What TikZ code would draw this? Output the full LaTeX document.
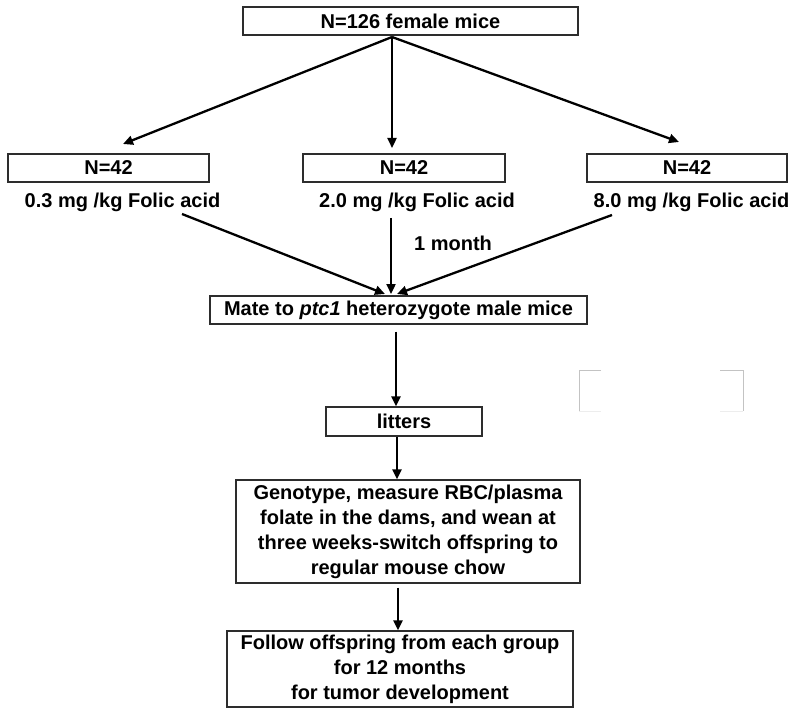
\documentclass[tikz,border=0pt]{standalone}
\usepackage{fontspec}
\setmainfont{Liberation Sans}
\usetikzlibrary{arrows.meta}
\usetikzlibrary{positioning}
\definecolor{boxgray}{RGB}{45,45,45}
\definecolor{ghostgray}{RGB}{195,195,195}

\begin{document}
\begin{tikzpicture}[x=1pt, y=-1pt,
    every node/.style={font=\fontsize{20}{25}\selectfont\bfseries, align=center, inner sep=0pt},
    stepbox/.style={draw=boxgray, line width=1.3pt, minimum height=28pt},
    arr/.style={line width=2.3pt, -{Triangle[length=10pt,width=9pt]}}]

        \useasboundingbox (0,0) rectangle (794,711);

        % Start
        \node[stepbox, minimum width=335pt] (mice) at (410.5,21) {N=126 female mice};

        % --- GROUPS ---
        \node[stepbox, minimum width=201pt] (low) at (108.5,168) {N=42};
        \node[below=10pt of low, xshift=14pt] (lowdose) {0.3 mg /kg Folic acid};

        \node[stepbox, minimum width=202pt] (mid) at (404,168) {N=42};
        \node[below=10pt of mid, xshift=13pt] (middose) {2.0 mg /kg Folic acid};

        \node[stepbox, minimum width=200pt] (high) at (687,168) {N=42};
        \node[below=10pt of high, xshift=4.5pt] (highdose) {8.0 mg /kg Folic acid};

        % Split arrows
        \coordinate (apex) at (392,37);
        \coordinate (lowtip) at (123,144);
        \coordinate (midtip) at (392,148);
        \coordinate (hightip) at (679,142);
        \draw[arr] (apex) -- (lowtip);
        \draw[arr] (apex) -- (midtip);
        \draw[arr] (apex) -- (hightip);

        % Mating
        \node[stepbox, minimum width=377pt] (mate) at (398.5,310) {Mate to \textit{ptc1} heterozygote male mice};
        \node (month) at (453,243) {1 month};

        \coordinate (lowsrc) at (182,214);
        \coordinate (midsrc) at (391,218);
        \coordinate (highsrc) at (612,215);
        \coordinate (matel) at (385,294);
        \coordinate (matem) at (391,294);
        \coordinate (mater) at (397,294);
        \draw[arr] (lowsrc) -- (matel);
        \draw[arr] (midsrc) -- (matem);
        \draw[arr] (highsrc) -- (mater);

        % --- FOLLOW-UP ---
        \node[stepbox, minimum width=156pt, minimum height=29pt] (litters) at (404,421.5) {litters};
        \node[stepbox, minimum width=344pt, minimum height=103pt] (geno) at (408,531.5)
            {Genotype, measure RBC/plasma\\folate in the dams, and wean at\\three weeks-switch offspring to\\regular mouse chow};
        \node[stepbox, minimum width=346pt, minimum height=76pt] (follow) at (400,669)
            {Follow offspring from each group\\for 12 months\\for tumor development};

        \draw[arr] ([xshift=-2.5pt, yshift=-7pt]mate.south) -- ([xshift=-2.5pt]mate.south |- litters.north);
        \draw[arr] ([xshift=-7pt]litters.south) -- ([xshift=-7pt]litters.south |- geno.north);
        \draw[arr] ([xshift=-10pt, yshift=-4pt]geno.south) -- ([xshift=-10pt]geno.south |- follow.north);

        % Faint leftover frame
        \draw[ghostgray, line width=1pt] (601,370) -- (579,370) -- (579,411);
        \draw[ghostgray, line width=1pt] (720,370) -- (743,370) -- (743,411);
        \draw[black!7, line width=1pt] (579,411) -- (601,411) (720,411) -- (743,411);

    \end{tikzpicture}
\end{document}
